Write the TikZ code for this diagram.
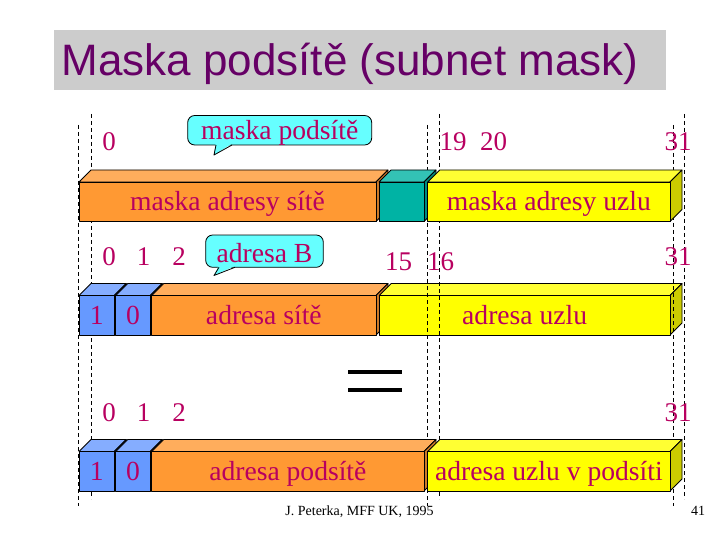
\documentclass[tikz,border=0pt]{standalone}
\usepackage{fontspec}
\setmainfont{Liberation Serif}
\newfontfamily\titlefont{Liberation Sans}
\definecolor{bitred}{RGB}{184,0,96}
\definecolor{titlepurple}{RGB}{102,0,102}
\definecolor{slidegray}{RGB}{204,204,204}
\definecolor{balloonfill}{RGB}{102,255,255}
\definecolor{frontorange}{RGB}{255,153,51}
\definecolor{toporange}{RGB}{255,173,92}
\definecolor{sideorange}{RGB}{204,122,41}
\definecolor{frontteal}{RGB}{0,179,164}
\definecolor{topteal}{RGB}{51,194,181}
\definecolor{sideteal}{RGB}{0,140,128}
\definecolor{frontyellow}{RGB}{255,255,0}
\definecolor{topyellow}{RGB}{255,255,51}
\definecolor{sideyellow}{RGB}{204,204,0}
\definecolor{frontblue}{RGB}{102,153,255}
\definecolor{topblue}{RGB}{133,173,255}
\definecolor{sideblue}{RGB}{77,115,204}
\usetikzlibrary{positioning}
\begin{document}
\begin{tikzpicture}[
  x=1pt,
  y=-1pt,
  line join=round,
  bitnum/.style={anchor=base, text=bitred, inner sep=0pt, font=\fontsize{27}{30}\selectfont},
  fieldtxt/.style={anchor=base, text=bitred, inner sep=0pt, font=\fontsize{27.6}{30}\selectfont},
  guide/.style={black, line width=0.9pt, dash pattern=on 4pt off 3pt},
  balloon/.style={draw=black, fill=balloonfill, line width=0.8pt},
  footnote/.style={anchor=base, inner sep=0pt, font=\fontsize{14}{16}\selectfont}
]
\useasboundingbox (0,0) rectangle (720,540);

% title bar
\fill[slidegray] (54,30) rectangle (666,90);
\node[anchor=base, inner sep=0pt, text=titlepurple, font=\titlefont\fontsize{44}{48}\selectfont] (title) at (350,76) {Maska podsítě (subnet mask)};

% left bit boundary
\draw[guide] (78,125) -- (78,506);
\draw[guide] (91,114) -- (91,499);

% class B address row
\foreach \xa/\xb/\yt/\c/\txt/\nm in {
  79/114.3/295.5/blue/1/classbitone,
  115.7/150.3/295.5/blue/0/classbitzero,
  151.7/376/295.5/orange/adresa sítě/netaddr,
  379.3/670/295.5/yellow/adresa uzlu/hostaddr} {
  \filldraw[fill=top\c, line width=0.8pt] (\xa,\yt) -- (\xa+12,\yt-12) -- (\xb+12,\yt-12) -- (\xb,\yt) -- cycle;
  \filldraw[fill=side\c, line width=0.8pt] (\xb,\yt) -- (\xb+12,\yt-12) -- (\xb+12,\yt+27.5) -- (\xb,\yt+39.5) -- cycle;
  \filldraw[fill=front\c, line width=0.8pt] (\xa,\yt) rectangle (\xb,\yt+39.5);
  \node[fieldtxt] (\nm) at ({(\xa+\xb)/2},\yt+29) {\txt};
}

% other bit boundaries
\foreach \gx in {427,673}
  \draw[guide] (\gx,125) -- (\gx,506);
\foreach \gx in {439,684}
  \draw[guide] (\gx,114) -- (\gx,499);

% mask row and subnet address row
\foreach \xa/\xb/\yt/\c/\txt/\nm in {
  79/376/182/orange/maska adresy sítě/netmask,
  379/424/182/teal/{}/subnetmask,
  427.7/670/182/yellow/maska adresy uzlu/hostmask,
  79/114.3/451.5/blue/1/subbitone,
  115.7/150.3/451.5/blue/0/subbitzero,
  151.7/424/451.5/orange/adresa podsítě/subnetaddr,
  427.7/670/451.5/yellow/adresa uzlu v podsíti/subhostaddr} {
  \filldraw[fill=top\c, line width=0.8pt] (\xa,\yt) -- (\xa+12,\yt-12) -- (\xb+12,\yt-12) -- (\xb,\yt) -- cycle;
  \filldraw[fill=side\c, line width=0.8pt] (\xb,\yt) -- (\xb+12,\yt-12) -- (\xb+12,\yt+27.5) -- (\xb,\yt+39.5) -- cycle;
  \filldraw[fill=front\c, line width=0.8pt] (\xa,\yt) rectangle (\xb,\yt+39.5);
  \node[fieldtxt] (\nm) at ({(\xa+\xb)/2},\yt+29) {\txt};
}

% bit numbers
\node[bitnum] (maskzero) at (109,150.5) {0};
\node[bitnum] (masknineteen) at (453,150.5) {19};
\node[bitnum] (masktwenty) at (493.7,150.5) {20};
\node[bitnum] (masklast) at (678,150.5) {31};
\foreach \bx/\bl/\nm in {109/0/addrzero,143.7/1/addrone,179/2/addrtwo} {
  \node[bitnum] (\nm) at (\bx,265) {\bl};
  \node[bitnum] (sub\nm) at (\bx,421) {\bl};
}
\node[bitnum] (addrfifteen) at (398.7,270.7) {15};
\node[bitnum] (addrsixteen) at (440.5,270.7) {16};
\node[bitnum] (addrlast) at (678,265) {31};
\node[bitnum] (sublast) at (678,421) {31};

% callouts
\draw[balloon, rounded corners=7pt] (187.7,115.5) rectangle (371.7,145);
\fill[balloonfill] (215.6,143.6) -- (214,155) -- (232,143.6) -- cycle;
\draw[line width=0.8pt] (216,145) -- (214,155) -- (232,145);
\node[fieldtxt] (masklabel) at (279.7,140) {maska podsítě};

\draw[balloon, rounded corners=7pt] (205.7,235) rectangle (323.3,267.3);
\fill[balloonfill] (218.6,265.9) -- (214,275.5) -- (235,265.9) -- cycle;
\draw[line width=0.8pt] (219,267.3) -- (214,275.5) -- (235,267.3);
\node[fieldtxt] (classlabel) at (264.5,262) {adresa B};

% equals sign
\draw[line width=4.5pt] (348.3,372) -- (401.7,372);
\draw[line width=4.5pt] (348.3,390) -- (401.7,390);

% footer
\node[footnote] (credit) at (359.5,515) {J. Peterka, MFF UK, 1995};
\node[footnote] (pageno) at (698,515.5) {41};
\end{tikzpicture}
\end{document}
